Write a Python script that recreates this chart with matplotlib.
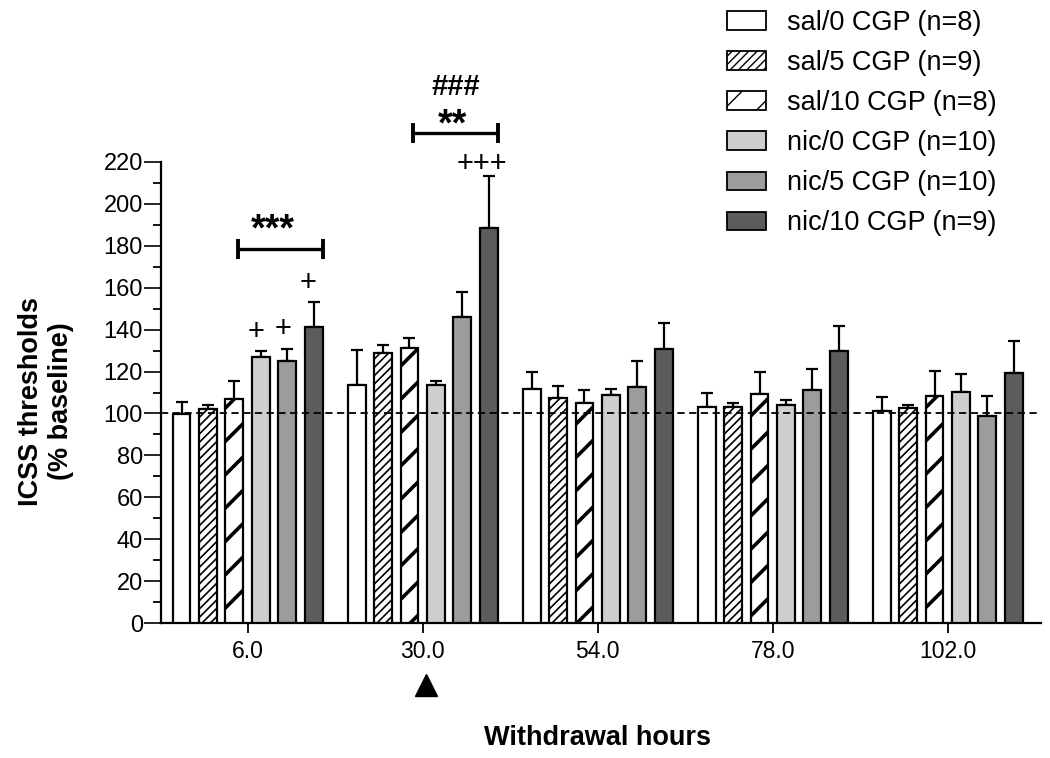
import numpy as np
import matplotlib
matplotlib.use("Agg")
import matplotlib.pyplot as plt
from matplotlib.patches import Patch
import matplotlib.transforms as mtransforms

plt.rcParams['font.family'] = ['Liberation Sans', 'DejaVu Sans']

# ---------------- data ----------------
groups = ['6.0', '30.0', '54.0', '78.0', '102.0']
labels = ['sal/0 CGP (n=8)', 'sal/5 CGP (n=9)', 'sal/10 CGP (n=8)',
          'nic/0 CGP (n=10)', 'nic/5 CGP (n=10)', 'nic/10 CGP (n=9)']
sal0 = [99.9, 113.7, 111.8, 103.2, 101.4]
sal5 = [102.2, 128.9, 107.5, 103.2, 102.5]
sal10 = [107.0, 131.3, 105.1, 109.5, 108.1]
nic0 = [126.8, 113.7, 108.9, 104.1, 110.3]
nic5 = [124.9, 145.9, 112.7, 111.4, 98.6]
nic10 = [141.1, 188.7, 130.8, 130.0, 119.2]
sal0_sem = [5.5, 16.8, 8.0, 6.6, 6.6]
sal5_sem = [1.6, 4.0, 5.5, 2.0, 1.6]
sal10_sem = [8.4, 4.7, 6.3, 10.3, 12.1]
nic0_sem = [3.2, 2.0, 3.0, 2.4, 8.6]
nic5_sem = [5.9, 11.9, 12.2, 9.6, 9.5]
nic10_sem = [12.1, 24.6, 12.4, 11.9, 15.6]

means = [sal0, sal5, sal10, nic0, nic5, nic10]
sems = [sal0_sem, sal5_sem, sal10_sem, nic0_sem, nic5_sem, nic10_sem]

# ---------------- styles ----------------
facecolors = ['white', 'white', 'white', '#cfcfcf', '#9c9c9c', '#5c5c5c']
hatches = [None, '////', '/', None, None, None]
hatch_lw = [1.0, 1.2, 2.6, 1.0, 1.0, 1.0]

fig = plt.figure(figsize=(10.5, 7.58), dpi=100)
ax = fig.add_axes([161/1050, 1-623/758, (1040.7-161)/1050, (623-162)/758])

x = np.arange(len(groups))
step = 0.151
width = 0.102

for i in range(6):
    pos = x + (i - 2.5) * step
    with plt.rc_context({'hatch.linewidth': hatch_lw[i]}):
        bars = ax.bar(pos, means[i], width, color=facecolors[i], edgecolor='black',
                      linewidth=1.6, hatch=hatches[i], zorder=3,
                      yerr=[np.zeros(len(groups)), sems[i]],
                      error_kw=dict(ecolor='black', elinewidth=1.6, capsize=4.2,
                                    capthick=1.6, zorder=2))
    for b in bars:
        try:
            b.set_hatch_linewidth(hatch_lw[i])
        except Exception:
            pass

ax.axhline(100, color='black', linestyle=(0, (4, 2.5)), linewidth=1.3, zorder=4)

ax.set_xlim(-0.495, 4.531)
ax.set_ylim(0, 220)
ax.set_yticks(np.arange(0, 221, 20))
ax.set_yticks(np.arange(10, 220, 20), minor=True)
ax.set_xticks(x)
ax.set_xticklabels(groups)
for s in ['top', 'right']:
    ax.spines[s].set_visible(False)
for s in ['left', 'bottom']:
    ax.spines[s].set_linewidth(1.6)
ax.tick_params(axis='y', which='major', length=12, width=1.2, labelsize=17, pad=1)
ax.tick_params(axis='y', which='minor', length=6, width=1.3)
ax.tick_params(axis='x', which='major', length=7.5, width=1.3, labelsize=16.5, pad=5)

# axis labels
fig.text(598/1050, 1-738/758, 'Withdrawal hours', ha='center', va='center',
         fontsize=19.5, fontweight='bold')
fig.text(31/1050, 1-401/758, 'ICSS thresholds', ha='center', va='center',
         rotation=90, fontsize=19.5, fontweight='bold')
fig.text(61/1050, 1-401/758, '(% baseline)', ha='center', va='center',
         rotation=90, fontsize=19.5, fontweight='bold')

# significance annotations
def bracket(xc, y, h):
    x0, x1 = xc - 0.057, xc + 0.43
    ax.plot([x0, x1], [y, y], color='black', lw=2.4, clip_on=False, zorder=5,
            solid_capstyle='butt')
    ax.plot([x0, x0], [y - h, y + h], color='black', lw=2.8, clip_on=False, zorder=5,
            solid_capstyle='butt')
    ax.plot([x1, x1], [y - h, y + h], color='black', lw=2.8, clip_on=False, zorder=5,
            solid_capstyle='butt')

bracket(0, 178.5, 4.8)
bracket(1, 233.9, 4.8)

ax.text(0.143, 182.5, '***', ha='center', va='baseline', fontsize=27, fontweight='bold', clip_on=False)
ax.text(1.171, 232.5, '**', ha='center', va='baseline', fontsize=27, fontweight='bold', clip_on=False)
ax.text(1.19, 252.0, '###', ha='center', va='baseline', fontsize=21, fontweight='bold', clip_on=False)
ax.text(1.337, 215.4, '+++', ha='center', va='baseline', fontsize=21, clip_on=False)
ax.text(0.047, 135.2, '+', ha='center', va='baseline', fontsize=21, clip_on=False)
ax.text(0.204, 136.6, '+', ha='center', va='baseline', fontsize=21, clip_on=False)
ax.text(0.346, 158.6, '+', ha='center', va='baseline', fontsize=21, clip_on=False)

# arrowhead marking 30 h
trans = mtransforms.blended_transform_factory(ax.transData, fig.transFigure)
ax.plot([1.017], [1-685/758], marker='^', color='black', markersize=16,
        transform=trans, clip_on=False)

# legend
handles = []
for i in range(6):
    with plt.rc_context({'hatch.linewidth': hatch_lw[i]}):
        p = Patch(facecolor=facecolors[i], edgecolor='black', linewidth=1.3,
                  hatch=hatches[i], label=labels[i])
    try:
        p.set_hatch_linewidth(hatch_lw[i])
    except Exception:
        pass
    handles.append(p)

fig.legend(handles=handles, loc='upper left', bbox_to_anchor=(727/1050, 1-10/758),
           frameon=False, fontsize=19.5, handlelength=1.45, handleheight=0.68,
           handletextpad=0.78, labelspacing=0.52, borderpad=0, borderaxespad=0)

fig.savefig('out.png', dpi=100)
